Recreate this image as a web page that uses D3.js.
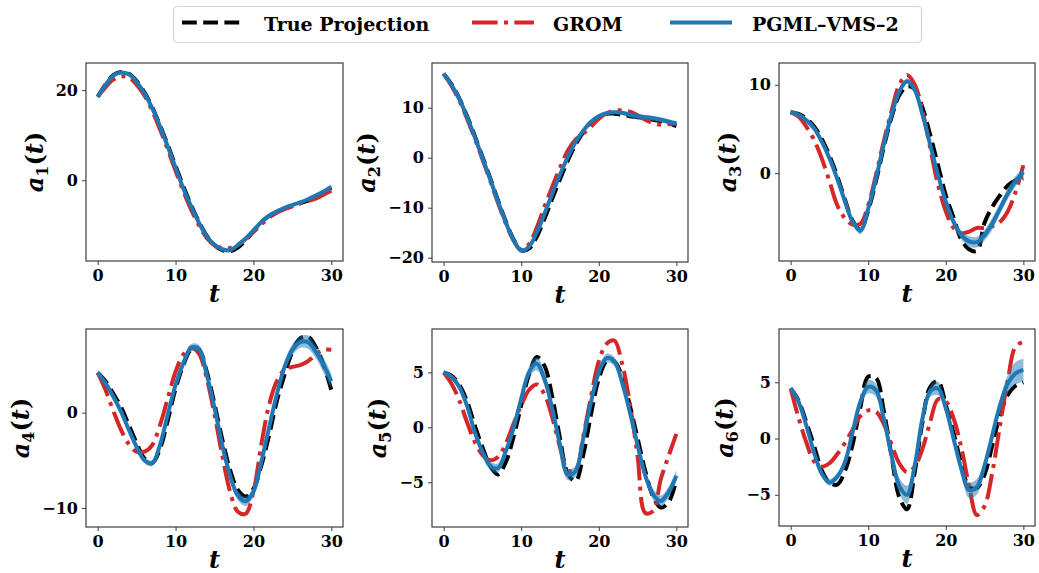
<!DOCTYPE html>
<html lang="en">
<head>
    <meta charset="UTF-8">
    <title>Modal coefficients a1..a6</title>
    <script src="https://d3js.org/d3.v7.min.js"></script>
    <style>
        body {
            margin: 0;
            background-color: #ffffff;
        }
        svg {
            display: block;
        }
        .tick text {
            font-family: "DejaVu Serif", serif;
            font-weight: bold;
            font-size: 16px;
            fill: #000;
        }
        .tick line {
            stroke: #3d3d3d;
            stroke-width: 1;
        }
        .axis-label {
            font-family: "DejaVu Serif", serif;
            font-weight: bold;
            font-size: 24px;
        }
        .legend-text {
            font-family: "DejaVu Serif", serif;
            font-weight: bold;
            font-size: 19px;
        }
    </style>
</head>
<body>
    <svg id="chart"></svg>

    <script>
        // time samples
        const tVals = [0, 1, 2, 3, 4, 5, 6, 7, 8, 9, 10, 11, 12, 13, 14, 15, 16, 17, 18, 19, 20, 21, 22, 23, 24, 25, 26, 27, 28, 29, 30];

        // a1
        const trueA1 = [18.5, 21.2, 23.3, 24.0, 23.6, 22.0, 19.5, 16.2, 12.2, 7.8, 3.2, -1.4, -5.5, -9.2, -12.3, -14.4, -15.5, -15.7, -14.9, -13.3, -11.3, -9.3, -7.9, -7.0, -6.3, -5.7, -5.1, -4.5, -3.8, -2.8, -1.6];
        const gromA1 = [18.5, 20.6, 22.3, 23.0, 22.8, 21.2, 18.8, 15.4, 11.3, 6.8, 2.1, -2.4, -6.5, -10.0, -12.8, -14.4, -15.0, -15.0, -14.3, -13.0, -11.5, -9.8, -8.3, -7.2, -6.4, -5.8, -5.1, -4.6, -4.1, -3.2, -2.3];
        const pgmlA1 = [18.5, 21.1, 23.2, 23.9, 23.5, 21.8, 19.3, 16.0, 12.0, 7.5, 2.8, -1.8, -5.8, -9.4, -12.4, -14.3, -15.3, -15.5, -14.4, -12.9, -11.1, -9.3, -7.9, -6.9, -6.1, -5.5, -4.9, -4.2, -3.4, -2.5, -1.4];
        const spreadA1 = [0.3, 0.3, 0.3, 0.3, 0.3, 0.3, 0.3, 0.3, 0.3, 0.3, 0.3, 0.3, 0.3, 0.3, 0.3, 0.3, 0.3, 0.3, 0.3, 0.3, 0.3, 0.3, 0.3, 0.3, 0.3, 0.3, 0.3, 0.3, 0.3, 0.3, 0.3];

        // a2
        const trueA2 = [16.8, 14.7, 11.9, 8.4, 4.4, 0.2, -4.1, -8.5, -12.7, -16.3, -18.5, -18.2, -15.8, -12.2, -8.2, -4.3, -0.6, 2.6, 5.1, 7.0, 8.2, 8.8, 8.8, 8.6, 8.3, 8.1, 7.9, 7.6, 7.3, 6.9, 6.3];
        const gromA2 = [16.8, 14.4, 11.5, 7.9, 3.9, -0.3, -4.6, -9.0, -13.1, -16.5, -18.5, -17.3, -14.0, -9.8, -5.8, -2.0, 1.4, 3.6, 4.8, 6.2, 7.8, 8.9, 9.4, 9.5, 9.2, 8.5, 7.6, 6.9, 6.6, 6.7, 7.0];
        const pgmlA2 = [16.8, 14.6, 11.8, 8.2, 4.2, 0.0, -4.3, -8.7, -12.9, -16.4, -18.6, -17.8, -15.0, -11.2, -7.2, -3.4, 0.1, 3.1, 5.4, 7.2, 8.3, 8.9, 9.1, 9.0, 8.6, 8.3, 8.1, 7.9, 7.6, 7.2, 6.8];
        const spreadA2 = [0.3, 0.3, 0.3, 0.3, 0.3, 0.3, 0.3, 0.3, 0.3, 0.3, 0.3, 0.3, 0.3, 0.3, 0.3, 0.3, 0.3, 0.3, 0.3, 0.3, 0.3, 0.3, 0.3, 0.4, 0.5, 0.5, 0.5, 0.5, 0.5, 0.5, 0.5];

        // a3
        const trueA3 = [6.9, 6.7, 6.2, 5.3, 3.9, 2.0, -0.3, -3.0, -5.4, -6.4, -4.2, -0.9, 2.9, 6.3, 8.8, 9.8, 9.5, 7.4, 4.3, 0.9, -2.5, -5.0, -7.5, -8.6, -8.8, -5.6, -3.8, -2.5, -1.4, -0.8, -0.6];
        const gromA3 = [6.9, 6.4, 5.3, 3.8, 1.7, -0.9, -3.6, -5.1, -5.8, -5.7, -3.6, -0.2, 3.6, 7.0, 10.0, 11.1, 10.0, 7.0, 2.8, -1.3, -4.3, -6.2, -6.8, -6.6, -6.2, -6.2, -6.0, -5.5, -4.3, -2.1, 0.9];
        const pgmlA3 = [6.9, 6.6, 6.0, 5.1, 3.6, 1.7, -0.6, -3.2, -5.5, -6.5, -4.0, -0.6, 3.2, 6.6, 9.2, 10.4, 9.4, 6.6, 3.2, -0.2, -3.2, -5.5, -7.0, -7.7, -7.8, -7.0, -5.7, -4.0, -2.3, -0.9, 0.1];
        const spreadA3 = [0.3, 0.3, 0.3, 0.3, 0.3, 0.3, 0.3, 0.3, 0.4, 0.4, 0.3, 0.3, 0.3, 0.3, 0.3, 0.3, 0.3, 0.3, 0.3, 0.3, 0.3, 0.4, 0.5, 0.6, 0.6, 0.6, 0.7, 0.6, 0.6, 0.6, 0.5];

        // a4
        const trueA4 = [4.2, 3.3, 2.0, 0.6, -1.3, -3.2, -4.8, -5.3, -3.8, -0.8, 2.5, 5.0, 6.6, 6.6, 4.3, 0.9, -2.8, -6.0, -8.1, -8.8, -8.0, -5.6, -2.4, 1.2, 4.0, 6.4, 7.8, 8.0, 6.9, 5.0, 2.4];
        const gromA4 = [4.2, 2.4, 0.2, -1.8, -3.3, -4.1, -4.1, -3.4, -1.3, 1.5, 4.3, 6.1, 6.8, 6.2, 3.6, -0.2, -4.5, -8.3, -10.4, -10.6, -8.3, -3.4, 0.8, 3.3, 4.5, 4.8, 5.0, 5.4, 6.1, 6.6, 6.6];
        const pgmlA4 = [4.2, 3.1, 1.7, 0.1, -1.8, -3.6, -5.0, -5.3, -3.4, -0.2, 2.9, 5.2, 6.8, 6.7, 4.0, 0.5, -3.4, -6.6, -8.7, -9.3, -8.3, -5.2, -1.6, 1.9, 4.8, 6.6, 7.4, 7.4, 6.4, 5.0, 3.3];
        const spreadA4 = [0.3, 0.3, 0.3, 0.3, 0.3, 0.3, 0.3, 0.3, 0.3, 0.3, 0.3, 0.4, 0.4, 0.4, 0.3, 0.3, 0.3, 0.4, 0.5, 0.5, 0.5, 0.4, 0.3, 0.4, 0.5, 0.6, 0.6, 0.7, 0.7, 0.8, 0.8];

        // a5
        const trueA5 = [5.0, 4.7, 3.9, 2.4, 0.2, -1.8, -3.5, -4.3, -3.2, -0.9, 2.0, 4.8, 6.4, 5.6, 2.8, -1.0, -4.2, -4.9, -2.5, 1.2, 4.4, 6.0, 6.0, 4.6, 2.0, -1.0, -4.0, -6.3, -7.3, -6.8, -4.8];
        const gromA5 = [5.0, 4.0, 2.5, 0.5, -1.3, -2.5, -3.0, -2.7, -1.5, 0.3, 2.0, 3.4, 3.9, 3.0, 0.9, -1.8, -3.9, -3.9, -0.8, 2.8, 6.0, 7.6, 7.9, 5.8, 2.2, -2.6, -7.8, -7.6, -4.7, -2.6, -0.6];
        const pgmlA5 = [5.0, 4.6, 3.7, 2.0, -0.4, -2.2, -3.5, -3.7, -2.2, -0.1, 2.6, 5.0, 5.8, 4.4, 1.7, -1.6, -4.3, -4.0, -1.0, 2.3, 5.0, 6.3, 6.0, 4.1, 1.4, -1.6, -4.4, -6.1, -6.7, -5.9, -4.4];
        const spreadA5 = [0.2, 0.2, 0.3, 0.3, 0.3, 0.3, 0.4, 0.4, 0.4, 0.3, 0.4, 0.5, 0.6, 0.6, 0.4, 0.3, 0.5, 0.5, 0.3, 0.3, 0.4, 0.4, 0.4, 0.3, 0.3, 0.3, 0.4, 0.5, 0.5, 0.5, 0.5];

        // a6
        const trueA6 = [4.45, 3.4, 1.5, -0.6, -2.8, -3.9, -4.1, -2.9, -0.5, 2.8, 5.5, 5.4, 2.5, -1.5, -5.2, -6.3, -3.0, 1.5, 4.6, 5.1, 3.0, 0.5, -2.2, -4.3, -4.4, -3.2, -0.6, 2.1, 3.9, 4.7, 5.0];
        const gromA6 = [4.45, 1.9, -0.3, -2.0, -2.5, -2.2, -1.4, -0.4, 0.8, 2.0, 2.5, 2.4, 1.3, -0.5, -2.2, -3.0, -2.5, -0.9, 1.5, 3.5, 3.3, 1.8, -0.8, -4.2, -6.8, -6.0, -3.0, 1.2, 5.2, 8.2, 8.6];
        const pgmlA6 = [4.45, 3.3, 1.2, -1.2, -3.1, -3.9, -3.4, -2.1, 0.6, 3.3, 4.6, 4.3, 1.8, -1.5, -4.2, -5.0, -2.4, 1.8, 4.2, 4.45, 2.7, 0.0, -2.7, -4.6, -4.3, -2.4, 0.3, 3.0, 4.9, 5.8, 6.1];
        const spreadA6 = [0.2, 0.2, 0.2, 0.2, 0.3, 0.3, 0.3, 0.3, 0.3, 0.4, 0.6, 0.6, 0.5, 0.5, 0.7, 0.8, 0.5, 0.4, 0.5, 0.6, 0.4, 0.4, 0.5, 0.7, 0.7, 0.5, 0.4, 0.5, 0.8, 1.0, 1.0];

        // ticks and labels
        const xTicks = [0, 10, 20, 30];
        const yTicksA1 = [0, 20];
        const yTicksA2 = [-20, -10, 0, 10];
        const yTicksA3 = [0, 10];
        const yTicksA4 = [-10, 0];
        const yTicksA5 = [-5, 0, 5];
        const yTicksA6 = [-5, 0, 5];
        const modeIndex = ["1", "2", "3", "4", "5", "6"];
        const legendLabels = ["True Projection", "GROM", "PGML\u2013VMS\u20132"];

        const colors = { tru: "#000000", grom: "#d62728", pgml: "#1f77b4" };
        const lw = 4;

        const W = 1039, H = 573;
        const svg = d3.select("#chart").attr("width", W).attr("height", H);

        // panel frames (left, right, top, bottom) and y limits
        const panels = [
            { tru: trueA1, grom: gromA1, pgml: pgmlA1, spread: spreadA1, ticks: yTicksA1, ylim: [-17.9, 26.0], box: [86, 343, 63, 261] },
            { tru: trueA2, grom: gromA2, pgml: pgmlA2, spread: spreadA2, ticks: yTicksA2, ylim: [-20.86, 18.94], box: [432, 688, 63, 262] },
            { tru: trueA3, grom: gromA3, pgml: pgmlA3, spread: spreadA3, ticks: yTicksA3, ylim: [-9.93, 12.46], box: [779, 1035, 63, 261] },
            { tru: trueA4, grom: gromA4, pgml: pgmlA4, spread: spreadA4, ticks: yTicksA4, ylim: [-12.0, 8.78], box: [86, 343, 329, 527] },
            { tru: trueA5, grom: gromA5, pgml: pgmlA5, spread: spreadA5, ticks: yTicksA5, ylim: [-9.07, 8.95], box: [432, 688, 329, 527] },
            { tru: trueA6, grom: gromA6, pgml: pgmlA6, spread: spreadA6, ticks: yTicksA6, ylim: [-7.78, 9.74], box: [779, 1035, 329, 526] }
        ];

        const minus = s => String(s).replace("-", "\u2212");

        panels.forEach((p, i) => {
            const [x0, x1, y0, y1] = p.box;
            const x = d3.scaleLinear().domain([-1.5, 31.5]).range([x0, x1]);
            const y = d3.scaleLinear().domain(p.ylim).range([y1, y0]);

            const g = svg.append("g");
            const clipId = "clip" + i;
            g.append("clipPath").attr("id", clipId)
                .append("rect").attr("x", x0).attr("y", y0).attr("width", x1 - x0).attr("height", y1 - y0);

            const plot = g.append("g").attr("clip-path", `url(#${clipId})`);

            const pts = arr => tVals.map((t, k) => [t, arr[k]]);
            const line = d3.line()
                .x(d => x(d[0]))
                .y(d => y(d[1]))
                .curve(d3.curveCatmullRom.alpha(0.5));

            plot.append("path")
                .datum(pts(p.tru))
                .attr("d", line)
                .attr("fill", "none")
                .attr("stroke", colors.tru)
                .attr("stroke-width", lw)
                .attr("stroke-dasharray", "14.8 6.4");

            plot.append("path")
                .datum(pts(p.grom))
                .attr("d", line)
                .attr("fill", "none")
                .attr("stroke", colors.grom)
                .attr("stroke-width", lw)
                .attr("stroke-dasharray", "25.6 6.4 4 6.4");

            const area = d3.area()
                .x(d => x(d.t))
                .y0(d => y(d.v - d.s))
                .y1(d => y(d.v + d.s))
                .curve(d3.curveCatmullRom.alpha(0.5));

            plot.append("path")
                .datum(tVals.map((t, k) => ({ t: t, v: p.pgml[k], s: p.spread[k] })))
                .attr("d", area)
                .attr("fill", colors.pgml)
                .attr("opacity", 0.5);

            plot.append("path")
                .datum(pts(p.pgml))
                .attr("d", line)
                .attr("fill", "none")
                .attr("stroke", colors.pgml)
                .attr("stroke-width", lw);

            // axes
            const xAxis = g.append("g")
                .attr("transform", `translate(0,${y1})`)
                .call(d3.axisBottom(x).tickValues(xTicks).tickSize(4).tickSizeOuter(0).tickPadding(5));
            xAxis.select(".domain").remove();

            const yAxis = g.append("g")
                .attr("transform", `translate(${x0},0)`)
                .call(d3.axisLeft(y).tickValues(p.ticks).tickSize(4).tickSizeOuter(0).tickPadding(4)
                    .tickFormat(minus));
            yAxis.select(".domain").remove();

            // frame
            g.append("rect")
                .attr("x", x0).attr("y", y0)
                .attr("width", x1 - x0).attr("height", y1 - y0)
                .attr("fill", "none")
                .attr("stroke", "#3d3d3d")
                .attr("stroke-width", 1.2);

            // x label
            g.append("text")
                .attr("class", "axis-label")
                .attr("x", (x0 + x1) / 2)
                .attr("y", y1 + 41)
                .attr("text-anchor", "middle")
                .attr("font-style", "italic")
                .text("t");

            // y label, placed just left of the widest tick label
            let tickLeft = 0;
            yAxis.selectAll(".tick text").each(function () {
                const b = this.getBBox();
                tickLeft = Math.min(tickLeft, b.x);
            });
            const yl = g.append("text")
                .attr("class", "axis-label")
                .attr("text-anchor", "middle");
            yl.append("tspan").attr("font-style", "italic").text("a");
            yl.append("tspan").attr("font-size", "16px").attr("dy", 5).text(modeIndex[i]);
            yl.append("tspan").attr("dy", -5).text("(");
            yl.append("tspan").attr("font-style", "italic").text("t");
            yl.append("tspan").text(")");
            const lb = yl.node().getBBox();
            const descent = lb.y + lb.height;
            const lx = x0 + tickLeft - 4 - descent;
            yl.attr("transform", `translate(${lx},${(y0 + y1) / 2}) rotate(-90)`);
        });

        // legend
        const legend = svg.append("g");
        legend.append("rect")
            .attr("x", 173.5).attr("y", 6.5)
            .attr("width", 748).attr("height", 36)
            .attr("rx", 4)
            .attr("fill", "#fff")
            .attr("stroke", "#d4d4d4")
            .attr("stroke-width", 1.2);

        const legendX = [182, 472, 670];
        const textX = [264, 553, 752];
        const legendStyles = [
            { color: colors.tru, dash: "14.8 6.4" },
            { color: colors.grom, dash: "25.6 6.4 4 6.4" },
            { color: colors.pgml, dash: null }
        ];
        legendLabels.forEach((lab, k) => {
            legend.append("line")
                .attr("x1", legendX[k]).attr("x2", legendX[k] + 62)
                .attr("y1", 22.5).attr("y2", 22.5)
                .attr("stroke", legendStyles[k].color)
                .attr("stroke-width", lw)
                .attr("stroke-dasharray", legendStyles[k].dash);
            legend.append("text")
                .attr("class", "legend-text")
                .attr("x", textX[k])
                .attr("y", 30.5)
                .text(lab);
        });
    </script>
</body>
</html>
